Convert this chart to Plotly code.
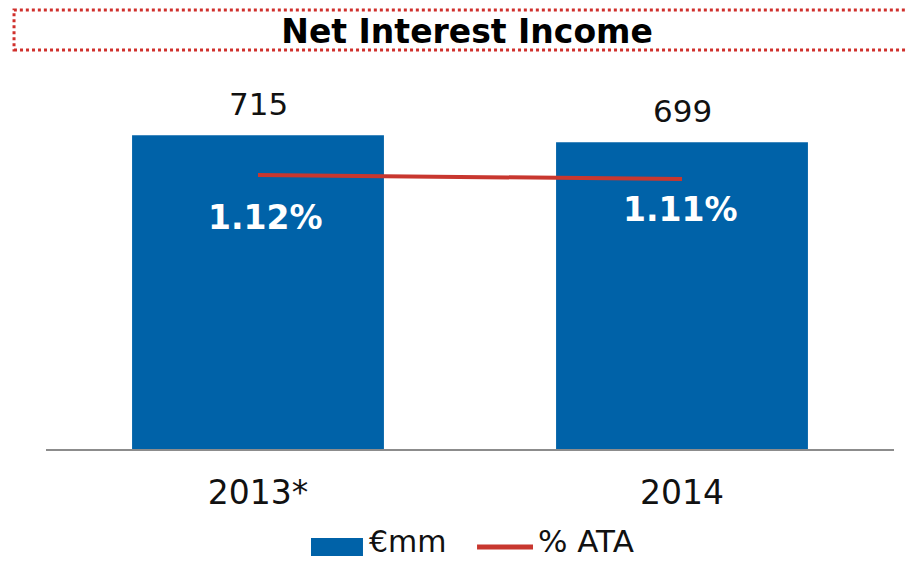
import plotly.graph_objects as go

categories = ["2013*", "2014"]
nii_values = [715, 699]
ata_values = [1.12, 1.11]
ata_labels = ["1.12%", "1.11%"]
legend_names = ["€mm", "% ATA"]
title_text = "Net Interest Income"

BLUE = "#0062A8"
RED = "#C8372F"
FONT = "DejaVu Sans"

fig = go.Figure()
fig.add_trace(go.Bar(
    x=categories, y=nii_values, name=legend_names[0],
    marker=dict(color=BLUE, line=dict(width=0)),
    width=0.594, yaxis="y", showlegend=False,
))
fig.add_trace(go.Scatter(
    x=categories, y=ata_values, name=legend_names[1], mode="lines",
    line=dict(color=RED, width=4), yaxis="y2", showlegend=False,
))

# value labels above bars (x given as category index)
for i, v in enumerate(nii_values):
    fig.add_annotation(x=i, y=v, xref="x", yref="y", text=str(v),
                       showarrow=False, yanchor="middle", yshift=31,
                       font=dict(family=FONT, size=31, color="#111111"))

# percentage labels (white, bold) under the line
pct_shifts = [(7, -42), (-2, -30)]
for i, (v, t) in enumerate(zip(ata_values, ata_labels)):
    dx, dy = pct_shifts[i]
    fig.add_annotation(x=i, y=v, xref="x", yref="y2", text="<b>%s</b>" % t,
                       showarrow=False, yanchor="middle", xshift=dx, yshift=dy,
                       font=dict(family=FONT, size=33, color="white"))

# dotted title frame
fig.add_shape(type="rect", xref="paper", yref="paper",
              x0=-0.0377, x1=1.03, y0=1.1114, y1=1.2228,
              line=dict(color="#D0302C", width=3, dash="dot"),
              fillcolor="rgba(0,0,0,0)")

# legend (drawn manually to match swatch sizes)
LEG_Y = (449 - 546) / 359
fig.add_shape(type="rect", xref="paper", yref="paper",
              x0=0.3125, x1=0.3738, y0=(449 - 556) / 359, y1=(449 - 538) / 359,
              line=dict(width=0), fillcolor=BLUE)
fig.add_annotation(x=0.3785, y=(449 - 561) / 359, xref="paper", yref="paper",
                   text=legend_names[0], showarrow=False,
                   xanchor="left", yanchor="bottom",
                   font=dict(family=FONT, size=30, color="#111111"))
fig.add_shape(type="line", xref="paper", yref="paper",
              x0=0.5083, x1=0.5743, y0=(449 - 547) / 359, y1=(449 - 547) / 359,
              line=dict(color=RED, width=5))
fig.add_annotation(x=0.5778, y=(449 - 561) / 359, xref="paper", yref="paper",
                   text=legend_names[1], showarrow=False,
                   xanchor="left", yanchor="bottom",
                   font=dict(family=FONT, size=31, color="#111111"))

fig.update_layout(
    width=907, height=562,
    margin=dict(l=46, r=13, t=90, b=113),
    paper_bgcolor="white", plot_bgcolor="white",
    font=dict(family=FONT, color="#111111"),
    title=dict(text="<b>%s</b>" % title_text, x=0.515, xanchor="center",
               y=1 - 31 / 562, yanchor="middle",
               font=dict(family=FONT, size=33, color="black")),
    xaxis=dict(showgrid=False, showline=True, linecolor="#8C8C8C", linewidth=2,
               ticks="", tickfont=dict(family=FONT, size=33, color="#111111"),
               ticklabelstandoff=13, range=[-0.5, 1.5]),
    yaxis=dict(range=[0, 818], visible=False, showgrid=False),
    yaxis2=dict(range=[0.435, 1.3325], overlaying="y", side="right",
                visible=False, showgrid=False),
    showlegend=False,
)

fig.write_html("out.html", config={"displayModeBar": False},
               post_script="document.body.style.margin='0';document.body.style.overflow='hidden';")
